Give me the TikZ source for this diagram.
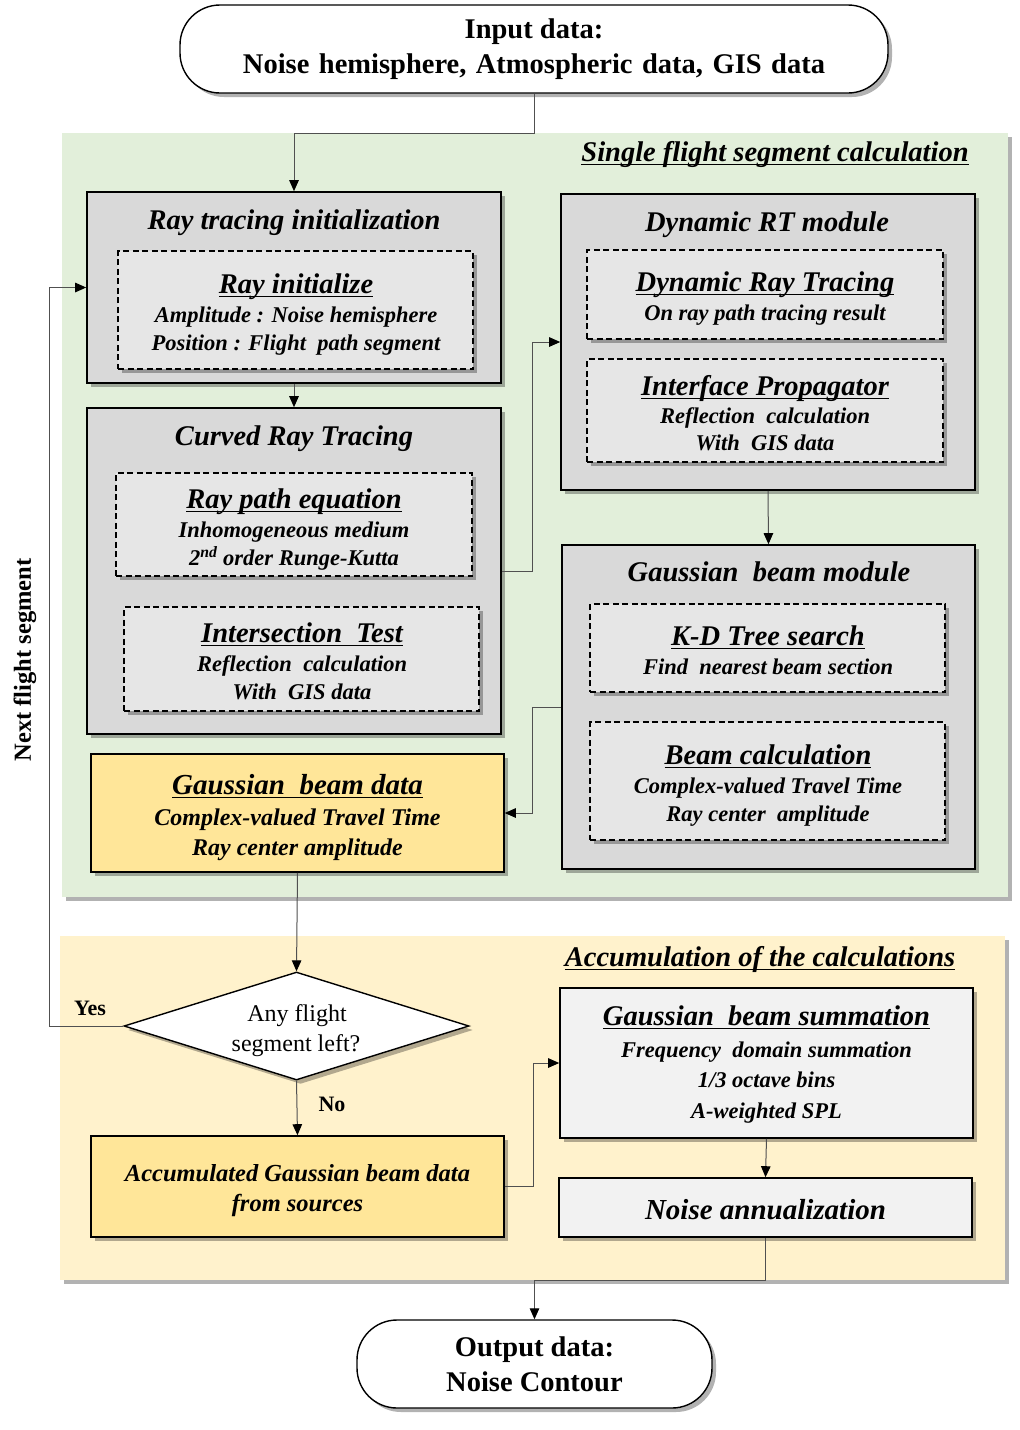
\documentclass[tikz,border=0pt]{standalone}
\usepackage{fontspec}
\setmainfont{Liberation Serif}
\usetikzlibrary{shapes.geometric,shadows,arrows.meta,calc}
\definecolor{pgreen}{HTML}{E2EFDA}
\definecolor{pyellow}{HTML}{FFF2CC}
\definecolor{boxgray}{HTML}{D9D9D9}
\definecolor{ingray}{HTML}{E6E6E6}
\definecolor{boxyellow}{HTML}{FFE699}
\definecolor{boxlight}{HTML}{F2F2F2}
\definecolor{linegray}{HTML}{505050}
\newcommand{\myul}[1]{\setbox0\hbox{#1}\rlap{\rule[-4pt]{\wd0}{1.3pt}}\box0}
\newcommand{\fTitle}{\fontsize{28.5}{34}\selectfont\bfseries\itshape}
\newcommand{\fBody}{\fontsize{22.5}{28}\selectfont\bfseries\itshape}
\newcommand{\wsp}{\hspace{9.5pt}}
\begin{document}
\begin{tikzpicture}[x=1pt,y=-1pt,
  shd/.style={drop shadow={shadow xshift=4pt,shadow yshift=-4pt,fill=black,opacity=0.3}},
  panel/.style={rectangle,inner sep=0pt,shd},
  outerbox/.style={rectangle,draw=black,line width=1.6pt,fill=boxgray,inner sep=0pt,shd},
  innerbox/.style={rectangle,draw=black,line width=1.2pt,dash pattern=on 6pt off 3.5pt,fill=ingray,inner sep=0pt,shd},
  ybox/.style={rectangle,draw=black,line width=1.6pt,fill=boxyellow,inner sep=0pt,shd},
  lbox/.style={rectangle,draw=black,line width=1.6pt,fill=boxlight,inner sep=0pt,shd},
  term/.style={rectangle,rounded corners=40pt,draw=black,line width=1.4pt,fill=white,inner sep=0pt,shd,
    align=center,font=\fontsize{28.5}{35}\selectfont\bfseries},
  ttl/.style={anchor=base,inner sep=0pt,font=\fTitle},
  bdy/.style={anchor=base,inner sep=0pt,font=\fBody},
  conn/.style={draw=linegray,line width=1pt},
  arr/.style={conn,-{Triangle[length=11pt,width=9.5pt,color=black]}}
]
\useasboundingbox (0,0) rectangle (1020,1430);

% panels
\node[panel,fill=pgreen,minimum width=946pt,minimum height=764pt] (pg) at (535,515) {};
\node[panel,fill=pyellow,minimum width=945pt,minimum height=344pt] (py) at (532.5,1108) {};
\node[ttl] (tpg) at (775,161) {\myul{Single flight segment calculation}};
\node[ttl] (tpy) at (760,966) {\myul{Accumulation of the calculations}};

% terminals
\node[term,minimum width=708pt,minimum height=88pt] (in) at (534,49) {Input data:\\Noise\wsp hemisphere,\wsp Atmospheric\wsp data,\wsp GIS\wsp data};
\node[term,minimum width=355pt,minimum height=88pt] (out) at (534.5,1364) {Output data:\\Noise Contour};

% Box 1
\node[outerbox,minimum width=414pt,minimum height=191pt] (b1) at (294,287.5) {};
\node[ttl] (b1t) at (294,229) {Ray tracing initialization};
\node[innerbox,minimum width=355pt,minimum height=118pt] (i1) at (295.5,310) {};
\node[ttl] (i1t) at (296,293) {\myul{Ray initialize}};
\node[bdy] (i1a) at (296,322) {Amplitude : Noise hemisphere};
\node[bdy] (i1b) at (296,350) {Position : Flight\ \ path segment};

% Box 2
\node[outerbox,minimum width=414pt,minimum height=326pt] (b2) at (294,571) {};
\node[ttl] (b2t) at (294,445) {Curved Ray Tracing};
\node[innerbox,minimum width=356pt,minimum height=103pt] (i2) at (294,524.5) {};
\node[ttl] (i2t) at (294,508) {\myul{Ray path equation}};
\node[bdy] (i2a) at (294,537) {Inhomogeneous medium};
\node[bdy] (i2b) at (294,565) {2\textsuperscript{nd} order Runge-Kutta};
\node[innerbox,minimum width=355pt,minimum height=104pt] (i3) at (301.5,659) {};
\node[ttl] (i3t) at (302,642) {\myul{Intersection\ \ Test}};
\node[bdy] (i3a) at (302,671) {Reflection\ \ calculation};
\node[bdy] (i3b) at (302,699) {With\ \ GIS data};

% Box 3
\node[outerbox,minimum width=414pt,minimum height=296pt] (b3) at (768,342) {};
\node[ttl] (b3t) at (767,231) {Dynamic RT module};
\node[innerbox,minimum width=356pt,minimum height=89pt] (i4) at (765,294.5) {};
\node[ttl] (i4t) at (765,291) {\myul{Dynamic Ray Tracing}};
\node[bdy] (i4a) at (765,320) {On ray path tracing result};
\node[innerbox,minimum width=356pt,minimum height=103pt] (i5) at (765,410.5) {};
\node[ttl] (i5t) at (765,395) {\myul{Interface Propagator}};
\node[bdy] (i5a) at (765,423) {Reflection\ \ calculation};
\node[bdy] (i5b) at (765,450) {With\ \ GIS data};

% Box 4
\node[outerbox,minimum width=413pt,minimum height=324pt] (b4) at (768.5,707) {};
\node[ttl] (b4t) at (769,581) {Gaussian\ \ beam module};
\node[innerbox,minimum width=355pt,minimum height=88pt] (i6) at (767.5,648) {};
\node[ttl] (i6t) at (768,645) {\myul{K-D Tree search}};
\node[bdy] (i6a) at (768,674) {Find\ \ nearest beam section};
\node[innerbox,minimum width=355pt,minimum height=118pt] (i7) at (767.5,781) {};
\node[ttl] (i7t) at (768,764) {\myul{Beam calculation}};
\node[bdy] (i7a) at (768,793) {Complex-valued Travel Time};
\node[bdy] (i7b) at (768,821) {Ray center\ \ amplitude};

% Gaussian beam data
\node[ybox,minimum width=413pt,minimum height=118pt] (gbd) at (297.5,813) {};
\node[anchor=base,inner sep=0pt,font=\fontsize{29}{34}\selectfont\bfseries\itshape] (gbdt) at (297.5,794) {\myul{Gaussian\ \ beam data}};
\node[anchor=base,inner sep=0pt,font=\fontsize{24}{30}\selectfont\bfseries\itshape] (gbda) at (297.5,825) {Complex-valued Travel Time};
\node[anchor=base,inner sep=0pt,font=\fontsize{24}{30}\selectfont\bfseries\itshape] (gbdb) at (297.5,855) {Ray center amplitude};

% Decision
\node[diamond,draw=black,line width=1.4pt,fill=white,inner sep=0pt,minimum width=345pt,minimum height=108pt,shd] (dia) at (296.5,1026) {};
\node[anchor=base,inner sep=0pt,font=\fontsize{24}{30}\selectfont] (diat1) at (297,1021) {Any flight};
\node[anchor=base,inner sep=0pt,font=\fontsize{24}{30}\selectfont] (diat2) at (296,1051) {segment left?};

% Accumulated
\node[ybox,minimum width=413pt,minimum height=101pt] (acc) at (297.5,1186.5) {};
\node[anchor=base,inner sep=0pt,font=\fontsize{24.5}{30}\selectfont\bfseries\itshape] (acca) at (297.5,1181) {Accumulated Gaussian beam data};
\node[anchor=base,inner sep=0pt,font=\fontsize{24.5}{30}\selectfont\bfseries\itshape] (accb) at (297.5,1211) {from sources};

% Gaussian beam summation
\node[lbox,minimum width=413pt,minimum height=150pt] (gbs) at (766.5,1063) {};
\node[ttl] (gbst) at (766.5,1025) {\myul{Gaussian\ \ beam summation}};
\node[bdy] (gbsa) at (766.5,1057) {Frequency\ \ domain summation};
\node[bdy] (gbsb) at (766.5,1087) {1/3 octave bins};
\node[bdy] (gbsc) at (766.5,1118) {A-weighted SPL};

% Noise annualization
\node[lbox,minimum width=413pt,minimum height=59pt] (na) at (765.5,1207.5) {};
\node[anchor=base,inner sep=0pt,font=\fontsize{29}{34}\selectfont\bfseries\itshape] (nat) at (765.5,1219) {Noise annualization};

% labels
\node[anchor=base,inner sep=0pt,font=\fontsize{22}{26}\selectfont\bfseries] (yes) at (90,1015) {Yes};
\node[anchor=base,inner sep=0pt,font=\fontsize{22}{26}\selectfont\bfseries] (no) at (332,1111) {No};
\node[rotate=90,inner sep=0pt,font=\fontsize{24.5}{28}\selectfont\bfseries] (nfs) at (25,660) {Next flight segment};

% connectors
\draw[arr] (in.south) -- ++(0,40) -| (b1.north);
\draw[arr] (b1.south) -- (b2.north);
\draw[arr] (b2.east) -- ++(31,0) |- (b3.west);
\draw[arr] (b3.south) -- (b4.north);
\draw[arr] (b4.west) -- ++(-29,0) |- (gbd.east);
\draw[arr] (gbd.south) -- (dia.north);
\draw[arr] (dia.west) -- ++(-74,0) |- (b1.west);
\draw[arr] (dia.south) -- (acc.north);
\draw[arr] (acc.east) -- ++(29,0) |- (gbs.west);
\draw[arr] (gbs.south) -- (na.north);
\draw[arr] (na.south) -- ++(0,43) -| (out.north);
\end{tikzpicture}
\end{document}
